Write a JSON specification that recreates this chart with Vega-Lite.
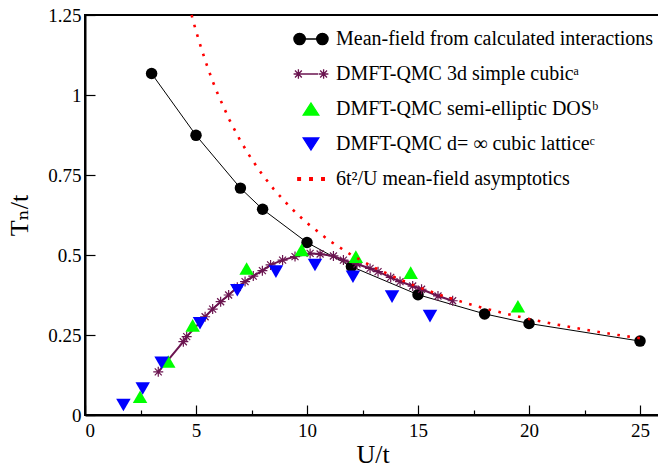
{
  "$schema": "https://vega.github.io/schema/vega-lite/v6.json",
  "width": 575,
  "height": 400,
  "autosize": "none",
  "padding": {"left": 85, "top": 15, "right": 0, "bottom": 53},
  "background": "white",
  "config": {
    "font": "Liberation Serif, Times New Roman, DejaVu Serif, serif",
    "view": {"stroke": "black", "strokeWidth": 2},
    "axis": {
      "grid": false,
      "domainColor": "black",
      "domainWidth": 2,
      "tickColor": "black",
      "tickWidth": 1.2,
      "labelFont": "Liberation Serif, Times New Roman, DejaVu Serif, serif",
      "labelFontSize": 19,
      "labelColor": "black",
      "titleFont": "Liberation Serif, Times New Roman, DejaVu Serif, serif",
      "titleFontSize": 26,
      "titleFontWeight": "normal",
      "titleColor": "black"
    },
    "legend": {
      "labelFont": "Liberation Serif, Times New Roman, DejaVu Serif, serif"
    }
  },
  "datasets": {
    "mf": [
      {"U": 3, "T": 1.067}, {"U": 5, "T": 0.874}, {"U": 7, "T": 0.709}, {"U": 8, "T": 0.643},
      {"U": 10, "T": 0.539}, {"U": 12, "T": 0.464}, {"U": 15, "T": 0.376}, {"U": 18, "T": 0.316},
      {"U": 20, "T": 0.286}, {"U": 25, "T": 0.231}
    ],
    "asym": [
      {"U": 4.8, "T": 1.25}, {"U": 5, "T": 1.2}, {"U": 5.25, "T": 1.143}, {"U": 5.5, "T": 1.091},
      {"U": 5.75, "T": 1.043}, {"U": 6, "T": 1.0}, {"U": 6.5, "T": 0.923}, {"U": 7, "T": 0.857},
      {"U": 7.5, "T": 0.8}, {"U": 8, "T": 0.75}, {"U": 8.5, "T": 0.706}, {"U": 9, "T": 0.667},
      {"U": 9.5, "T": 0.632}, {"U": 10, "T": 0.6}, {"U": 11, "T": 0.545}, {"U": 12, "T": 0.5},
      {"U": 13, "T": 0.462}, {"U": 14, "T": 0.429}, {"U": 15, "T": 0.4}, {"U": 16, "T": 0.375},
      {"U": 17, "T": 0.353}, {"U": 18, "T": 0.333}, {"U": 19, "T": 0.316}, {"U": 20, "T": 0.3},
      {"U": 21, "T": 0.286}, {"U": 22, "T": 0.273}, {"U": 23, "T": 0.261}, {"U": 24, "T": 0.25},
      {"U": 25, "T": 0.24}
    ],
    "cubic3d": [
      {"U": 3.30, "T": 0.135}, {"U": 4.43, "T": 0.229}, {"U": 4.58, "T": 0.245}, {"U": 5.41, "T": 0.307},
      {"U": 5.75, "T": 0.331}, {"U": 6.11, "T": 0.354}, {"U": 6.47, "T": 0.375}, {"U": 6.86, "T": 0.399},
      {"U": 7.21, "T": 0.417}, {"U": 7.58, "T": 0.434}, {"U": 7.99, "T": 0.451}, {"U": 8.36, "T": 0.469},
      {"U": 8.90, "T": 0.484}, {"U": 9.46, "T": 0.495}, {"U": 10.14, "T": 0.505}, {"U": 10.59, "T": 0.503},
      {"U": 11.19, "T": 0.497}, {"U": 11.64, "T": 0.484}, {"U": 12.25, "T": 0.472}, {"U": 12.84, "T": 0.458},
      {"U": 13.20, "T": 0.448}, {"U": 13.77, "T": 0.430}, {"U": 14.19, "T": 0.417}, {"U": 14.76, "T": 0.403},
      {"U": 15.16, "T": 0.393}, {"U": 15.90, "T": 0.372}, {"U": 16.56, "T": 0.357}
    ],
    "semi": [
      {"U": 2.48, "T": 0.057}, {"U": 3.75, "T": 0.167}, {"U": 4.85, "T": 0.28}, {"U": 7.28, "T": 0.458},
      {"U": 9.76, "T": 0.516}, {"U": 12.2, "T": 0.495}, {"U": 14.67, "T": 0.445}, {"U": 19.5, "T": 0.34}
    ],
    "inf": [
      {"U": 1.73, "T": 0.031}, {"U": 2.6, "T": 0.083}, {"U": 3.45, "T": 0.163}, {"U": 5.18, "T": 0.287},
      {"U": 6.86, "T": 0.39}, {"U": 8.6, "T": 0.448}, {"U": 10.36, "T": 0.469}, {"U": 12.07, "T": 0.432},
      {"U": 13.83, "T": 0.37}, {"U": 15.54, "T": 0.309}
    ]
  },
  "encoding": {
    "x": {
      "field": "U", "type": "quantitative",
      "scale": {"domain": [0, 25.9], "nice": false, "zero": false},
      "axis": {
        "title": "U/t",
        "values": [0, 2.5, 5, 7.5, 10, 12.5, 15, 17.5, 20, 22.5, 25],
        "labelExpr": "datum.value % 5 === 0 ? format(datum.value, 'd') : ''",
        "tickSize": {"condition": {"test": "datum.value % 5 === 0", "value": -10}, "value": -5},
        "labelPadding": 16,
        "titlePadding": 1
      }
    },
    "y": {
      "field": "T", "type": "quantitative",
      "scale": {"domain": [0, 1.25], "nice": false},
      "axis": {
        "title": "Tₙ/t",
        "values": [0, 0.25, 0.5, 0.75, 1, 1.25],
        "labelExpr": "datum.value + ''",
        "tickSize": -10,
        "labelPadding": 14,
        "titlePadding": 15
      }
    }
  },
  "layer": [
    {
      "data": {"name": "mf"},
      "mark": {"type": "line", "strokeWidth": 1},
      "encoding": {
        "color": {
          "datum": "A", "type": "nominal",
          "scale": {"domain": ["A", "B", "C", "D", "E"], "range": ["#000000", "#6b1550", "#00ff00", "#0000ff", "#ff0000"]},
          "legend": {
            "orient": "none",
            "legendX": 216,
            "legendY": 14,
            "title": null,
            "labelExpr": "datum.value === 'A' ? 'Mean-field from calculated interactions' : datum.value === 'B' ? 'DMFT-QMC 3d simple cubicᵃ' : datum.value === 'C' ? 'DMFT-QMC semi-elliptic DOSᵇ' : datum.value === 'D' ? 'DMFT-QMC d= ∞ cubic latticeᶜ' : '6t²/U mean-field asymptotics'",
            "labelFont": "Liberation Serif, Times New Roman, DejaVu Serif, serif",
            "labelFontSize": 20,
            "labelColor": "black",
            "labelLimit": 400,
            "symbolSize": 144,
            "labelOffset": 15,
            "rowPadding": 15,
            "encode": {
              "symbols": {
                "update": {
                  "shape": {"signal": "datum.value === 'A' ? 'M-2.85,0A0.95,0.95,0,1,0,-0.95,0A0.95,0.95,0,1,0,-2.85,0ZM0.95,0A0.95,0.95,0,1,0,2.85,0A0.95,0.95,0,1,0,0.95,0ZM-1.9,0L1.9,0' : datum.value === 'B' ? 'M-2.1,-0.8L-2.1,0.8M-2.9,0L-1.3,0M-2.67,-0.57L-1.53,0.57M-2.67,0.57L-1.53,-0.57M2.1,-0.8L2.1,0.8M1.3,0L2.9,0M1.53,-0.57L2.67,0.57M1.53,0.57L2.67,-0.57M-2.1,0L1.2,0' : datum.value === 'C' ? 'M0,-1L1.3,1L-1.3,1Z' : datum.value === 'D' ? 'M0,1L1.3,-1L-1.3,-1Z' : 'M-2.2,-0.22h0.44v0.44h-0.44ZM-0.22,-0.22h0.44v0.44h-0.44ZM1.78,-0.22h0.44v0.44h-0.44Z'"},
                  "fill": {"signal": "datum.value === 'A' ? '#000000' : datum.value === 'C' ? '#00ff00' : datum.value === 'D' ? '#0000ff' : datum.value === 'E' ? '#ff0000' : 'transparent'"},
                  "stroke": {"signal": "datum.value === 'A' ? '#000000' : datum.value === 'B' ? '#6b1550' : 'transparent'"},
                  "strokeWidth": {"value": 1.3},
                  "strokeDash": {"value": []},
                  "size": {"value": 144},
                  "opacity": {"value": 1}
                }
              }
            }
          }
        }
      }
    },
    {
      "data": {"name": "mf"},
      "mark": {"type": "point", "shape": "circle", "filled": true, "opacity": 1, "size": 132},
      "encoding": {"color": {"datum": "A", "type": "nominal"}}
    },
    {
      "data": {"name": "cubic3d"},
      "mark": {"type": "line", "strokeWidth": 2},
      "encoding": {"color": {"datum": "B", "type": "nominal"}}
    },
    {
      "data": {"name": "cubic3d"},
      "mark": {"type": "point", "shape": "M0,-1L0,1M-1,0L1,0M-0.7,-0.7L0.7,0.7M-0.7,0.7L0.7,-0.7", "filled": false, "opacity": 1, "size": 100, "strokeWidth": 1.2},
      "encoding": {"color": {"datum": "B", "type": "nominal"}}
    },
    {
      "data": {"name": "semi"},
      "mark": {"type": "point", "shape": "triangle-up", "filled": true, "opacity": 1, "size": 210},
      "encoding": {"color": {"datum": "C", "type": "nominal"}}
    },
    {
      "data": {"name": "inf"},
      "mark": {"type": "point", "shape": "triangle-down", "filled": true, "opacity": 1, "size": 210},
      "encoding": {"color": {"datum": "D", "type": "nominal"}}
    },
    {
      "data": {"name": "asym"},
      "mark": {"type": "line", "strokeWidth": 2.6, "strokeDash": [2.6, 7.5], "strokeCap": "butt"},
      "encoding": {"color": {"datum": "E", "type": "nominal"}}
    }
  ]
}
